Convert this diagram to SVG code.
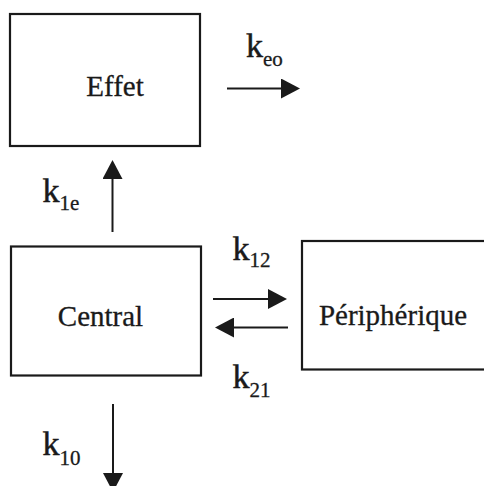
<svg xmlns="http://www.w3.org/2000/svg" width="484" height="486" viewBox="0 0 484 486">
<style>
.box{fill:#fff;stroke:#1a1a1a;stroke-width:2.2}
.lbl{font-family:"Liberation Serif","Times New Roman",serif;font-size:29px;fill:#1a1a1a;stroke:#1a1a1a;stroke-width:0.3;text-anchor:middle}
.k{font-family:"Liberation Serif","Times New Roman",serif;font-size:34px;fill:#1a1a1a;stroke:#1a1a1a;stroke-width:0.5}
.sub{font-size:21px;stroke-width:0.3}
.arr{stroke:#1a1a1a;stroke-width:2;fill:none;marker-end:url(#ah)}
</style>
<defs>
<marker id="ah" viewBox="0 0 19 20" refX="0" refY="10" markerWidth="19" markerHeight="20" markerUnits="userSpaceOnUse" orient="auto">
<path d="M0,0 L19,10 L0,20 z" fill="#1a1a1a"/>
</marker>
</defs>
<rect width="484" height="486" fill="#fff"/>
<g id="effet">
<rect class="box" x="10" y="14" width="190" height="132"/>
<text class="lbl" x="115" y="95.5">Effet</text>
</g>
<g id="central">
<rect class="box" x="11" y="246.5" width="190" height="129"/>
<text class="lbl" x="100.5" y="325.5">Central</text>
</g>
<g id="peripherique">
<rect class="box" x="302" y="241" width="200" height="128.5"/>
<text class="lbl" x="393" y="324.5">Périphérique</text>
</g>
<g id="connectors">
<line class="arr" x1="227" y1="88.5" x2="281" y2="88.5"/>
<line class="arr" x1="112.5" y1="232" x2="112.5" y2="179"/>
<line class="arr" x1="213" y1="299" x2="268" y2="299"/>
<line class="arr" x1="288" y1="327.5" x2="234" y2="327.5"/>
<line class="arr" x1="113" y1="404" x2="113" y2="473"/>
</g>
<g id="labels">
<text class="k" x="246" y="57">k<tspan class="sub" dy="9">eo</tspan></text>
<text class="k" x="42.5" y="201.5">k<tspan class="sub" dy="8">1e</tspan></text>
<text class="k" x="232.5" y="260">k<tspan class="sub" dy="7">12</tspan></text>
<text class="k" x="232.5" y="388">k<tspan class="sub" dy="8.5">21</tspan></text>
<text class="k" x="42.5" y="455">k<tspan class="sub" dy="10">10</tspan></text>
</g>
</svg>
